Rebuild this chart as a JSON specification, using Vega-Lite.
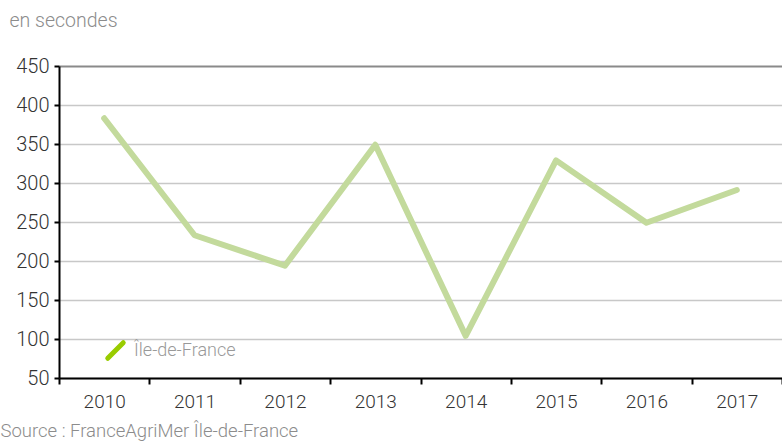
{
  "$schema": "https://vega.github.io/schema/vega-lite/v6.json",
  "autosize": "none",
  "width": 723,
  "height": 312,
  "padding": {"left": 59, "top": 66, "right": 0, "bottom": 63},
  "background": "white",
  "config": {
    "font": "Roboto",
    "view": {"stroke": null}
  },
  "data": {
    "values": [
      {"year": "2010", "value": 383, "region": "Île-de-France"},
      {"year": "2011", "value": 233, "region": "Île-de-France"},
      {"year": "2012", "value": 194, "region": "Île-de-France"},
      {"year": "2013", "value": 349, "region": "Île-de-France"},
      {"year": "2014", "value": 104, "region": "Île-de-France"},
      {"year": "2015", "value": 329, "region": "Île-de-France"},
      {"year": "2016", "value": 249, "region": "Île-de-France"},
      {"year": "2017", "value": 291, "region": "Île-de-France"}
    ]
  },
  "encoding": {
    "x": {
      "field": "year",
      "type": "ordinal",
      "bandPosition": 0.5,
      "scale": {"type": "band", "paddingInner": 0, "paddingOuter": 0},
      "axis": {
        "title": "Source : FranceAgriMer Île-de-France",
        "titleFont": "Roboto",
        "titleFontWeight": 300,
        "titleFontSize": 18.5,
        "titleColor": "#8c8c8c",
        "titleAnchor": "start",
        "titleAlign": "left",
        "titleX": -59,
        "titleY": 58,
        "titleBaseline": "alphabetic",
        "labelAngle": 0,
        "labelFontSize": 19,
        "labelFontWeight": 300,
        "labelColor": "#333333",
        "labelPadding": 8,
        "tickBand": "extent",
        "tickColor": "#000000",
        "tickSize": 6,
        "tickWidth": 2,
        "domainColor": "#000000",
        "domainWidth": 2,
        "grid": false
      }
    },
    "y": {
      "field": "value",
      "type": "quantitative",
      "scale": {"domain": [50, 450], "nice": false, "zero": false},
      "axis": {
        "values": [50, 100, 150, 200, 250, 300, 350, 400, 450],
        "title": "en secondes",
        "titleFont": "Roboto",
        "titleFontWeight": 300,
        "titleFontSize": 19.5,
        "titleColor": "#8c8c8c",
        "titleAngle": 0,
        "titleAlign": "left",
        "titleBaseline": "alphabetic",
        "titleX": -50,
        "titleY": -40,
        "labelFontSize": 20,
        "labelFontWeight": 300,
        "labelColor": "#333333",
        "labelPadding": 5,
        "tickColor": "#000000",
        "tickSize": 5,
        "tickWidth": 2,
        "domainColor": "#000000",
        "domainWidth": 2,
        "grid": true,
        "gridColor": {"condition": {"test": "datum.value == 450", "value": "#8a8a8a"}, "value": "#c8c8c8"},
        "gridWidth": {"condition": {"test": "datum.value == 450", "value": 2}, "value": 1.5}
      }
    }
  },
  "layer": [
    {
      "mark": {"type": "line", "stroke": "#c3da9c", "strokeWidth": 6, "strokeCap": "round", "strokeJoin": "round"}
    },
    {
      "mark": {"type": "line", "strokeWidth": 6, "strokeOpacity": 0},
      "encoding": {
        "color": {
          "field": "region",
          "type": "nominal",
          "scale": {"range": ["#99cc00"]},
          "legend": {
            "title": null,
            "orient": "none",
            "legendX": 46,
            "legendY": 274,
            "symbolType": "M-1,1L1,-1",
            "symbolStrokeWidth": 5,
            "symbolSize": 240,
            "symbolOpacity": 1,
            "labelFontSize": 18,
            "labelFontWeight": 300,
            "labelColor": "#999999",
            "labelOffset": 8,
            "padding": 0,
            "encoding": {"symbols": {"stroke": {"value": "#99cc00"}, "strokeOpacity": {"value": 1}, "strokeCap": {"value": "round"}}}
          }
        }
      }
    }
  ]
}
